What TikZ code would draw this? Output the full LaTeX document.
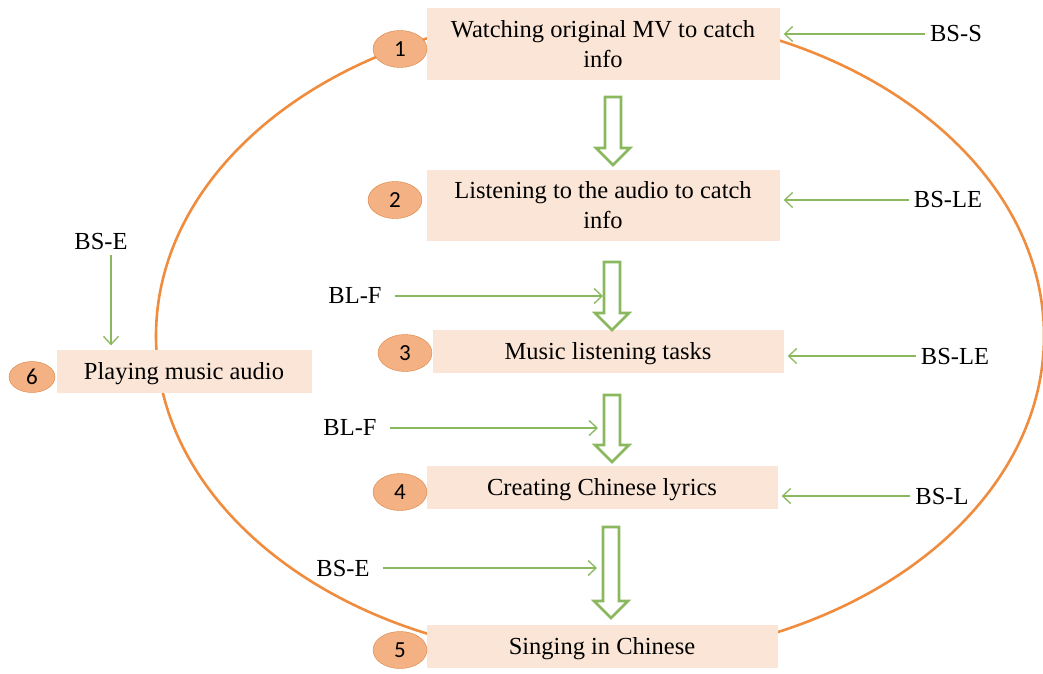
\documentclass[tikz,border=0pt]{standalone}
\usepackage{fontspec}
\setmainfont{Liberation Serif}
\newfontfamily\badgefont{Carlito}
\usepackage{tikz}
\usetikzlibrary{
  arrows.meta,
  shapes.geometric
}
\definecolor{peach}{HTML}{FBE5D6}
\definecolor{badgefill}{HTML}{F4B183}
\definecolor{badgeline}{HTML}{D9823F}
\definecolor{ringline}{HTML}{F08C3E}
\definecolor{leafgreen}{HTML}{8AB85E}
\tikzset{
  taskbox/.style={fill=peach,minimum width=353,minimum height=43,align=center,inner sep=0pt,text depth=0pt},
  badge/.style={ellipse,draw=badgeline,fill=badgefill,thin,minimum width=54,minimum height=37,inner sep=0pt,font=\badgefont\fontsize{23}{24}\selectfont},
  cue/.style={inner sep=5pt},
  cuearrow/.style={draw=leafgreen,line width=1.3pt,-{Straight Barb[length=8pt,width=15pt]},shorten >=4pt},
  blockarrow/.style={draw=leafgreen,line width=2.6pt,fill=white,line join=miter},
  ring/.style={draw=ringline,line width=2.6pt},
}

\begin{document}
\begin{tikzpicture}[x=1pt,y=-1pt,font=\fontsize{24.5}{30}\selectfont]
\useasboundingbox (0,0) rectangle (1043,673);
\draw[ring] (600,336) ellipse [x radius=444, y radius=323];

% task boxes
\node[taskbox, minimum height=72] (b1) at (603,44) {Watching original MV to catch\\info};
\node[taskbox, minimum height=71] (b2) at (603,205) {Listening to the audio to catch\\info};
\node[taskbox, minimum width=351] (b3) at (608,351) {Music listening tasks};
\node[taskbox, minimum width=351] (b4) at (602,487) {Creating Chinese lyrics};
\node[taskbox, minimum width=351] (b5) at (602,646) {Singing in Chinese};
\node[taskbox, minimum width=255] (b6) at (184,371) {Playing music audio};

\foreach[count=\k] \pos in {(400,49),(395,200),(405,353),(400,492),(400,650)}
{
  \node[badge] (n\k) at \pos {\k};
}
\node[badge, minimum width=46, minimum height=31] (n6) at (32,377) {6};

\foreach \x/\ya/\yb in {613/97/165, 612/262/330, 612/395/462, 611/527/618}
{
  \draw[blockarrow] ({\x-8},\ya) -- ({\x+8},\ya) -- ({\x+8},{\yb-17}) -- ({\x+17},{\yb-17})
    -- (\x,\yb) -- ({\x-17},{\yb-17}) -- ({\x-8},{\yb-17}) -- cycle;
}

% cues on the right
\node[cue] (sS) at (956,34) {BS-S};
\node[cue] (sLE1) at (948,200) {BS-LE};
\node[cue] (sLE2) at (955,356) {BS-LE};
\node[cue] (sL) at (942,496) {BS-L};
\draw[cuearrow] (sS) -- (sS -| b1.east);
\draw[cuearrow] (sLE1) -- (sLE1 -| b2.east);
\draw[cuearrow] (sLE2) -- (sLE2 -| b3.east);
\draw[cuearrow] (sL) -- (sL -| b4.east);

% cues on the left
\node[cue] (fL1) at (355,296) {BL-F};
\node[cue] (fL2) at (350,428) {BL-F};
\node[cue] (sE1) at (343,568) {BS-E};
\node[cue] (sE0) at (101,242) {BS-E};
\coordinate (e2) at (607,296);
\coordinate (e3) at (602,428);
\coordinate (e4) at (601,568);
\draw[cuearrow, shorten <=8pt] (fL1) -- (e2);
\draw[cuearrow, shorten <=8pt] (fL2) -- (e3);
\draw[cuearrow, shorten <=8pt] (sE1) -- (e4);
\draw[cuearrow] ([xshift=10]sE0.south) -- ([xshift=10]sE0.south |- b6.north);
\end{tikzpicture}
\end{document}
